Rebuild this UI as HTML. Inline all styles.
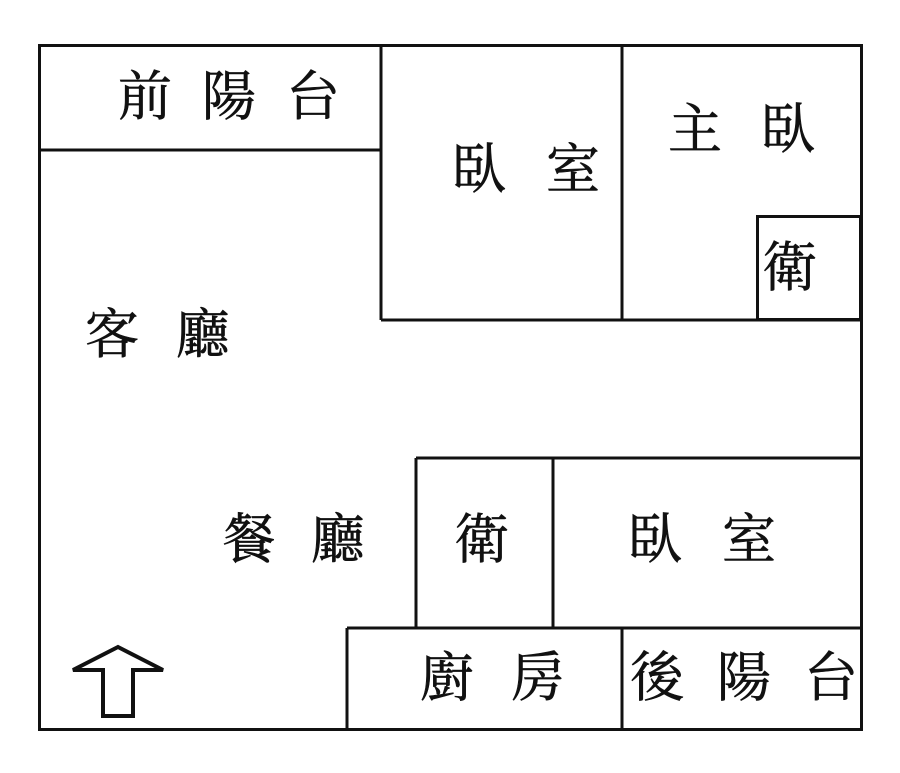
<!DOCTYPE html>
<html><head><meta charset="utf-8"><style>
html,body{margin:0;padding:0;background:#fff;width:900px;height:773px;overflow:hidden}
svg{display:block}
text{font-family:"Liberation Serif","Noto Serif CJK TC","Noto Serif CJK SC",serif;font-size:54px;fill:#111;stroke:#111;stroke-width:0.6;dominant-baseline:central}
</style></head><body>
<svg width="900" height="773" viewBox="0 0 900 773">
<rect x="0" y="0" width="900" height="773" fill="#fff"/>
<g stroke="#111" stroke-width="3" fill="none">
<rect x="39.5" y="45.5" width="822" height="684"/>
<line x1="39" y1="150" x2="381" y2="150"/>
<line x1="381" y1="45" x2="381" y2="320"/>
<line x1="381" y1="320" x2="862" y2="320"/>
<line x1="622" y1="45" x2="622" y2="320"/>
<rect x="757.5" y="216.5" width="103" height="103"/>
<line x1="416" y1="458" x2="862" y2="458"/>
<line x1="416" y1="458" x2="416" y2="628"/>
<line x1="553" y1="458" x2="553" y2="628"/>
<line x1="347" y1="628" x2="862" y2="628"/>
<line x1="347" y1="628" x2="347" y2="730"/>
<line x1="622" y1="628" x2="622" y2="730"/>
<polygon stroke-width="4" stroke-linejoin="miter" points="118,647 163,670 133,670 133,716 103,716 103,670 73,670"/>
</g>
<text x="118" y="97" letter-spacing="30">前陽台</text>
<text x="452" y="170" letter-spacing="40">臥室</text>
<text x="668" y="130" letter-spacing="39">主臥</text>
<text x="763" y="268">衛</text>
<text x="85" y="335" letter-spacing="37">客廳</text>
<text x="222" y="540" letter-spacing="35">餐廳</text>
<text x="455" y="540">衛</text>
<text x="628" y="540" letter-spacing="40">臥室</text>
<text x="420" y="678" letter-spacing="37">廚房</text>
<text x="630" y="678" letter-spacing="33">後陽台</text>
</svg>
</body></html>
